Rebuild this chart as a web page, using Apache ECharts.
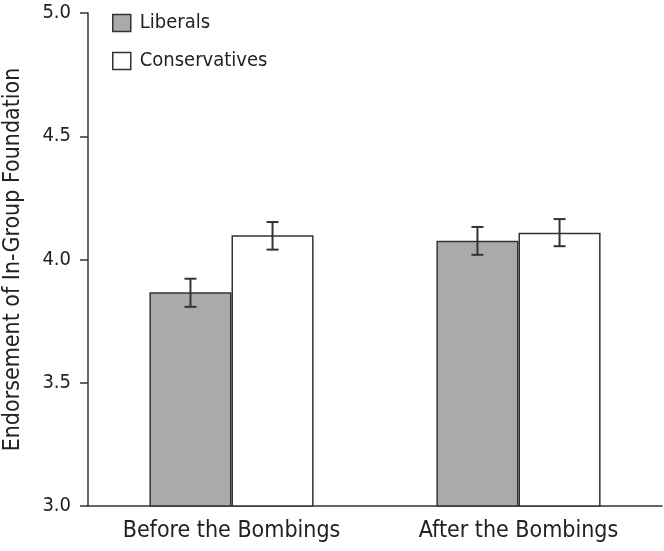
<!DOCTYPE html>
<html>
<head>
<meta charset="utf-8">
<script src="https://cdn.jsdelivr.net/npm/echarts@6/dist/echarts.min.js"></script>
<style>html,body{margin:0;padding:0;background:#fff}#c{width:664px;height:551px}</style>
</head>
<body>
<div id="c"></div>
<script>
const categories = ['Before the Bombings', 'After the Bombings'];
const liberals = [3.867, 4.076];
const liberalsErrLow = [3.808, 4.019];
const liberalsErrHigh = [3.922, 4.132];
const conservatives = [4.098, 4.109];
const conservativesErrLow = [4.040, 4.054];
const conservativesErrHigh = [4.152, 4.164];
const yTicks = ['3.0', '3.5', '4.0', '4.5', '5.0'];

const FONT = '"DejaVu Sans Condensed", "Roboto", sans-serif';
const BAR_FRAC = 0.286;

function errSeries(low, high, side) {
  return {
    type: 'custom',
    z: 5,
    silent: true,
    data: categories.map((c, i) => [i, low[i], high[i]]),
    renderItem: function (params, api) {
      const idx = api.value(0);
      const lo = api.coord([idx, api.value(1)]);
      const hi = api.coord([idx, api.value(2)]);
      const band = api.size([1, 0])[0];
      const x = lo[0] + side * band * BAR_FRAC / 2;
      const cap = 6;
      const style = { stroke: '#333', lineWidth: 2, fill: null };
      return {
        type: 'group',
        children: [
          { type: 'line', shape: { x1: x, y1: lo[1], x2: x, y2: hi[1] }, style: style },
          { type: 'line', shape: { x1: x - cap, y1: lo[1], x2: x + cap, y2: lo[1] }, style: style },
          { type: 'line', shape: { x1: x - cap, y1: hi[1], x2: x + cap, y2: hi[1] }, style: style }
        ]
      };
    }
  };
}

const chart = echarts.init(document.getElementById('c'));
chart.setOption({
  animation: false,
  textStyle: { fontFamily: FONT },
  grid: { left: 88, right: 2, top: 13, bottom: 45, containLabel: false, outerBoundsMode: 'none' },
  legend: {
    orient: 'vertical',
    left: 107,
    top: 8,
    itemWidth: 18,
    itemHeight: 17,
    itemGap: 18,
    icon: 'rect',
    textStyle: { fontFamily: FONT, fontSize: 20, color: '#222', lineHeight: 20, padding: [0, 0, 0, 4] },
    data: [
      { name: 'Liberals', itemStyle: { color: '#aaaaaa', borderColor: '#333', borderWidth: 1.5 } },
      { name: 'Conservatives', itemStyle: { color: '#ffffff', borderColor: '#333', borderWidth: 1.5 } }
    ]
  },
  xAxis: {
    type: 'category',
    data: categories,
    axisLine: { lineStyle: { color: '#333', width: 1.5 } },
    axisTick: { show: false },
    axisLabel: { fontFamily: FONT, fontSize: 23, color: '#222', margin: 14 }
  },
  yAxis: {
    type: 'value',
    min: 3.0,
    max: 5.0,
    interval: 0.5,
    name: 'Endorsement of In-Group Foundation',
    nameLocation: 'middle',
    nameGap: 63,
    nameTextStyle: { fontFamily: FONT, fontSize: 23, color: '#222' },
    axisLine: { show: true, lineStyle: { color: '#333', width: 1.5 } },
    axisTick: { show: true, length: 8, lineStyle: { color: '#333', width: 1.5 } },
    splitLine: { show: false },
    axisLabel: {
      fontFamily: FONT, fontSize: 20, color: '#222', margin: 17,
      formatter: function (v) { return yTicks[Math.round((v - 3) / 0.5)]; }
    }
  },
  series: [
    {
      name: 'Liberals', type: 'bar', data: liberals,
      barWidth: (BAR_FRAC * 100) + '%', barGap: '0%',
      itemStyle: { color: '#aaaaaa', borderColor: '#333', borderWidth: 1.5 }
    },
    {
      name: 'Conservatives', type: 'bar', data: conservatives,
      barWidth: (BAR_FRAC * 100) + '%', barGap: '0%',
      itemStyle: { color: '#ffffff', borderColor: '#333', borderWidth: 1.5 }
    },
    errSeries(liberalsErrLow, liberalsErrHigh, -1),
    errSeries(conservativesErrLow, conservativesErrHigh, 1)
  ]
});
</script>
</body>
</html>
